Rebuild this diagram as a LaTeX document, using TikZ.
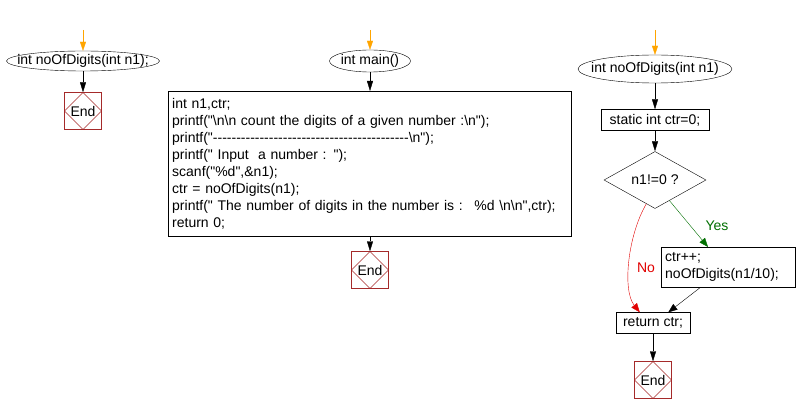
\documentclass[tikz,border=0pt]{standalone}
\usepackage{fontspec}
\newfontfamily\flowfont{Liberation Sans}
\usetikzlibrary{arrows.meta, shapes.geometric}

\definecolor{endred}{RGB}{165,42,42}
\definecolor{startorange}{RGB}{255,165,0}
\definecolor{nored}{RGB}{225,0,0}
\definecolor{yesgreen}{RGB}{0,110,0}

% keeps the ovals as flat as in the chart
\newcommand{\ovaltext}[1]{\makebox[0pt]{#1}}

\tikzset{
  every node/.style={font=\flowfont\fontsize{14}{17}\selectfont},
  startoval/.style={draw, ellipse, inner sep=0pt},
  procbox/.style={draw, rectangle, inner sep=4pt},
  decision/.style={draw, diamond, inner sep=0pt},
  endbox/.style={draw=endred, minimum size=37pt, inner sep=0pt,
    path picture={\draw[endred] (path picture bounding box.north) -- (path picture bounding box.west)
      -- (path picture bounding box.south) -- (path picture bounding box.east) -- cycle;}},
  flow/.style={-{Triangle[length=10pt,width=6pt]}},
  entry/.style={startorange, -{Triangle[length=9pt,width=6pt]}},
  branch/.style={-{Triangle[length=9pt,width=7pt]}}
}

\begin{document}
\begin{tikzpicture}[x=1pt, y=-1pt]
\useasboundingbox (0,0) rectangle (797,414);

% function declaration
\coordinate (in1) at (83,30);
\node[startoval, minimum width=153pt, minimum height=20pt] (dig1) at (83,61) {\ovaltext{int noOfDigits(int n1);}};
\node[endbox] (end1) at (83,111) {End};
\draw[entry] (in1) -- (dig1);
\draw[flow] (dig1) -- (end1);

% main
\coordinate (in2) at (370,30);
\node[startoval, minimum width=81pt, minimum height=22pt] (main) at (370,61) {\ovaltext{int main()}};
\node[procbox, anchor=north west, text width=395pt, minimum height=145pt, align=left] (body) at (168,91) {int n1,ctr;\\
printf("\textbackslash n\textbackslash n count the digits of a given number :\textbackslash n");\\
printf("------------------------------------------\textbackslash n");\\
printf(" Input~ a number : ");\\
scanf("\%d",\&n1);\\
ctr = noOfDigits(n1);\\
printf(" The number of digits in the number is :~ \%d \textbackslash n\textbackslash n",ctr);\\
return 0;};
\node[endbox] (end2) at (370,270) {End};
\draw[entry] (in2) -- (main);
\draw[flow] (main) -- (body.north -| main);
\draw[flow] (body.south -| end2) -- (end2);

% noOfDigits
\coordinate (in3) at (655,30);
\node[startoval, minimum width=154pt, minimum height=28pt] (dig2) at (655,69) {\ovaltext{int noOfDigits(int n1)}};
\node[procbox, minimum width=108pt, minimum height=21pt] (init) at (655,120) {static int ctr=0;};
\node[decision, minimum width=102pt, minimum height=46pt] (test) at (655,180) {n1!=0 ?};
\node[procbox, anchor=north west, text width=126pt, minimum height=40pt, align=left] (recur) at (661,247) {ctr++;\\noOfDigits(n1/10);};
\node[procbox, minimum width=74pt, minimum height=21pt] (ret) at (653,323) {return ctr;};
\node[endbox] (end3) at (653,380) {End};
\node[text=yesgreen] (yes) at (717,226) {Yes};
\node[text=nored] (no) at (646,268) {No};

\draw[entry] (in3) -- (dig2);
\draw[flow] (dig2) -- (init);
\draw[flow] (init) -- (test);
\draw[branch, yesgreen] (test.305) -- (recur.135);
\draw[branch, nored] (test.250) .. controls (628,235) and (622,290) .. (ret.141);
\draw[branch] (recur.216) -- (ret.35);
\draw[flow] (ret) -- (end3);
\end{tikzpicture}
\end{document}
